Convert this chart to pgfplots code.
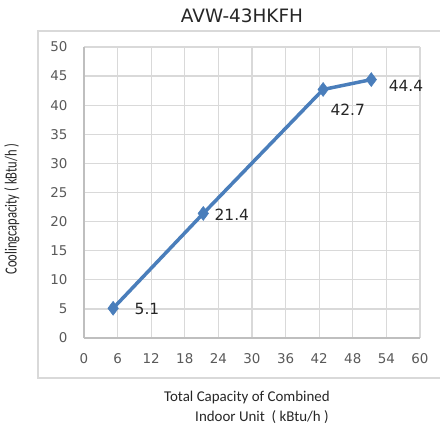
\documentclass[border=0pt]{standalone}
\usepackage{pgfplots}
\pgfplotsset{compat=1.18}
\usepackage{fontspec}
\setmainfont{Carlito}
\newfontfamily\dvs{DejaVu Sans}
\definecolor{lineblue}{HTML}{4A7EBB}
\definecolor{ticklbl}{HTML}{595959}
\definecolor{gridc}{HTML}{D9D9D9}
\definecolor{axc}{HTML}{BFBFBF}
\definecolor{txt}{HTML}{262626}
\begin{document}
\begin{tikzpicture}
\path[use as bounding box] (-84bp,-92bp) rectangle (356bp,338bp);
\begin{axis}[
  at={(0bp,0bp)}, anchor=south west,
  scale only axis, width=336bp, height=291bp,
  xmin=0, xmax=60, ymin=0, ymax=50,
  xtick={0,6,...,60}, ytick={0,5,...,50},
  grid=major, major grid style={draw=gridc, line width=1.3bp},
  axis x line*=bottom, axis y line*=left,
  axis line style={draw=axc, line width=2.4bp, -},
  tick style={draw=none},
  /pgf/number format/assume math mode=true,
  ticklabel style={font=\dvs\fontsize{13.5}{13.5}\selectfont, text=ticklbl},
  xticklabel style={yshift=-12bp},
  yticklabel style={xshift=-13bp},
  clip=false,
]
\addplot[lineblue, line width=3.5bp, mark=diamond*, mark size=7bp,
  mark options={fill=lineblue, line width=0.5bp}]
  coordinates {(5.2,5.1) (21.3,21.4) (42.7,42.7) (51.3,44.4)};
\node[text=txt, font=\dvs\fontsize{15.5}{15.5}\selectfont] at (axis cs:11.25,5.0) {5.1};
\node[text=txt, font=\dvs\fontsize{15.5}{15.5}\selectfont] at (axis cs:26.4,21.1) {21.4};
\node[text=txt, font=\dvs\fontsize{15.5}{15.5}\selectfont] at (axis cs:47.1,39.2) {42.7};
\node[text=txt, font=\dvs\fontsize{15.5}{15.5}\selectfont] at (axis cs:57.5,43.3) {44.4};
\end{axis}
\draw[gridc, line width=1.3bp] (-46bp,-40bp) rectangle (360bp,307bp);
\node[text=txt, font=\dvs\fontsize{18.5}{18.5}\selectfont] at (158bp,322bp) {AVW-43HKFH};
\node[text=txt, font=\fontsize{15}{15}\selectfont] at (163bp,-60bp) {Total Capacity of Combined};
\node[text=txt, font=\fontsize{15}{15}\selectfont] at (178bp,-79bp) {Indoor Unit \ ( kBtu/h )};
\node[text=txt, rotate=90] at (-72bp,129bp) {\scalebox{0.74}[1]{\fontsize{17}{17}\selectfont Coolingcapacity ( kBtu/h )}};
\end{tikzpicture}
\end{document}
